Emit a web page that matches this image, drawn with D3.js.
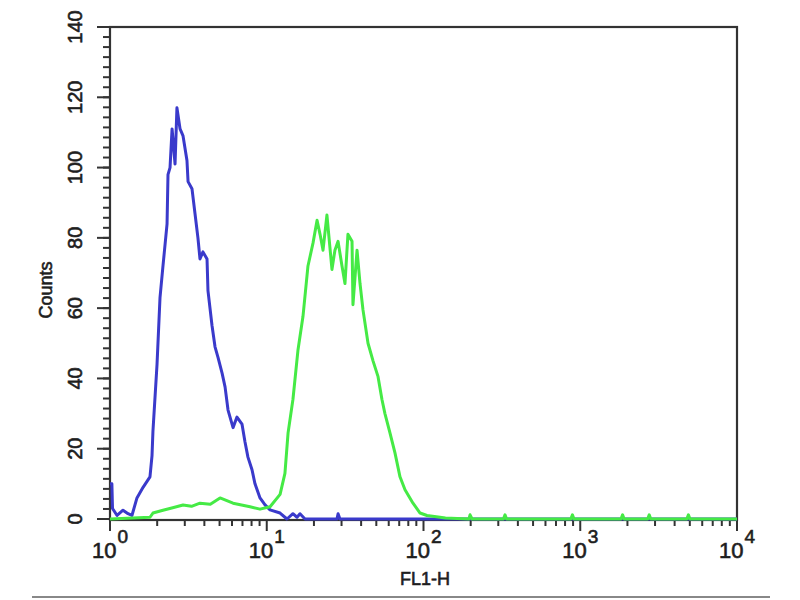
<!DOCTYPE html>
<html>
<head>
<meta charset="utf-8">
<script src="https://cdn.jsdelivr.net/npm/d3@7"></script>
<style>
  body { margin: 0; background: #fff; }
  svg { font-family: "Liberation Sans", Arial, sans-serif; }
  .lbl { fill: #1e1e1e; stroke: #1e1e1e; stroke-width: 0.6px; }
</style>
</head>
<body>
<svg id="chart" width="800" height="600"></svg>
<script>
// FL1-H position in decades (log10), counts per series
var blueX = [0, 0.012, 0.016, 0.045, 0.083, 0.115, 0.14, 0.172, 0.211, 0.255, 0.268, 0.274, 0.3, 0.319, 0.338, 0.364, 0.37, 0.383, 0.396, 0.415, 0.427, 0.447, 0.466, 0.491, 0.498, 0.523, 0.542, 0.561, 0.574, 0.593, 0.619, 0.625, 0.651, 0.67, 0.689, 0.715, 0.734, 0.753, 0.785, 0.81, 0.842, 0.861, 0.88, 0.906, 0.925, 0.957, 0.989, 1.021, 1.085, 1.129, 1.167, 1.193, 1.212, 1.244, 1.448, 1.455, 1.467, 2.01, 4]
var blueY = [10, 10, 3, 1, 2.5, 1.5, 1, 6, 9, 12, 18, 25, 44, 63, 72, 84, 98, 100, 111, 101, 117, 111, 109, 102, 96, 94, 87, 80, 74, 76, 74, 65, 55, 49, 46, 41.5, 37.6, 31, 26, 29, 27, 22, 17.6, 14, 10, 6, 4, 2.6, 1.7, 0, 1.5, 0.5, 1.5, 0, 0, 1.5, 0, 0, 0]

var greenX = [0, 0.255, 0.274, 0.338, 0.4, 0.466, 0.52, 0.574, 0.64, 0.702, 0.785, 0.893, 0.957, 1.021, 1.085, 1.116, 1.136, 1.167, 1.199, 1.231, 1.263, 1.295, 1.321, 1.34, 1.359, 1.384, 1.416, 1.435, 1.455, 1.48, 1.499, 1.518, 1.544, 1.55, 1.576, 1.595, 1.614, 1.646, 1.678, 1.71, 1.735, 1.754, 1.786, 1.818, 1.85, 1.882, 1.933, 1.978, 2.022, 2.105, 2.14, 2.29, 2.297, 2.31, 2.51, 2.52, 2.53, 2.94, 2.95, 2.96, 3.26, 3.27, 3.28, 3.43, 3.44, 3.45, 3.68, 3.69, 3.7, 4]
var greenY = [0, 0.5, 1.7, 2.5, 3.2, 4, 3.6, 4.5, 4.2, 6, 4.5, 3.5, 2.8, 3.5, 7, 13, 24.5, 34, 48, 57.6, 72, 78.5, 85, 81, 76.5, 86.5, 71, 76.5, 79, 72, 67, 81, 79, 61, 76.5, 67, 59.5, 50, 45, 40.5, 34, 30, 24.5, 18.8, 12, 8.3, 4.5, 1.7, 1, 0.5, 0.3, 0, 1.2, 0, 0, 1.2, 0, 0, 1.2, 0, 0, 1.2, 0, 0, 1.2, 0, 0, 1.2, 0, 0]

var yTicks = [0, 20, 40, 60, 80, 100, 120, 140]
var xDecades = [0, 1, 2, 3, 4]

var plot = { left: 110, right: 737, top: 27, bottom: 519 }

var svg = d3.select("#chart")

var xScale = d3.scaleLinear()
    .domain([0, 4])
    .range([plot.left, plot.right])

var yScale = d3.scaleLinear()
    .domain([0, 140])
    .range([plot.bottom, plot.top])

// frame
svg.append("rect")
    .attr("x", plot.left)
    .attr("y", plot.top)
    .attr("width", plot.right - plot.left)
    .attr("height", plot.bottom - plot.top + 1)
    .attr("fill", "none")
    .attr("stroke", "#333")
    .attr("stroke-width", 2.2)

// y ticks
var minorY = d3.range(0, 140.01, 20 / 7)
svg.append("g").selectAll("line")
    .data(minorY)
    .enter()
    .append("line")
    .attr("x1", plot.left - 7)
    .attr("x2", plot.left)
    .attr("y1", d => yScale(d))
    .attr("y2", d => yScale(d))
    .attr("stroke", "#333")
    .attr("stroke-width", 2)

svg.append("g").selectAll("line")
    .data(yTicks)
    .enter()
    .append("line")
    .attr("x1", plot.left - 13)
    .attr("x2", plot.left)
    .attr("y1", d => yScale(d))
    .attr("y2", d => yScale(d))
    .attr("stroke", "#333")
    .attr("stroke-width", 2)

svg.append("g").selectAll("text")
    .data(yTicks)
    .enter()
    .append("text")
    .attr("class", "lbl")
    .attr("transform", d => "translate(82," + yScale(d) + ") rotate(-90)")
    .attr("text-anchor", "middle")
    .style("font-size", "20px")
    .text(d => d)

svg.append("text")
    .attr("class", "lbl")
    .attr("transform", "translate(52,290) rotate(-90)")
    .attr("text-anchor", "middle")
    .style("font-size", "18px")
    .text("Counts")

// x ticks (log decades)
var minorX = []
xDecades.slice(0, 4).forEach(function(dec){
    for (var k = 2; k < 10; k++) minorX.push(dec + Math.log10(k))
})
svg.append("g").selectAll("line")
    .data(minorX)
    .enter()
    .append("line")
    .attr("x1", d => xScale(d))
    .attr("x2", d => xScale(d))
    .attr("y1", plot.bottom)
    .attr("y2", plot.bottom + 7)
    .attr("stroke", "#333")
    .attr("stroke-width", 2)

svg.append("g").selectAll("line")
    .data(xDecades)
    .enter()
    .append("line")
    .attr("x1", d => xScale(d))
    .attr("x2", d => xScale(d))
    .attr("y1", plot.bottom)
    .attr("y2", plot.bottom + 12)
    .attr("stroke", "#333")
    .attr("stroke-width", 2)

var xLabels = svg.append("g").selectAll("text")
    .data(xDecades)
    .enter()
    .append("text")
    .attr("class", "lbl")
    .attr("x", d => xScale(d))
    .attr("y", 558)
    .attr("text-anchor", "middle")
    .style("font-size", "22px")
xLabels.append("tspan").text("10")
xLabels.append("tspan")
    .attr("dy", -15)
    .attr("dx", 1)
    .style("font-size", "19px")
    .text(d => d)

svg.append("text")
    .attr("class", "lbl")
    .attr("x", 425)
    .attr("y", 585)
    .attr("text-anchor", "middle")
    .style("font-size", "18px")
    .text("FL1-H")

// histograms
var line = d3.line()
    .x(d => xScale(d[0]))
    .y(d => yScale(d[1]))

svg.append("path")
    .datum(d3.zip(blueX, blueY))
    .attr("d", line)
    .attr("fill", "none")
    .attr("stroke", "#3a3acb")
    .attr("stroke-width", 3)
    .attr("stroke-linejoin", "round")

svg.append("path")
    .datum(d3.zip(greenX, greenY))
    .attr("d", line)
    .attr("fill", "none")
    .attr("stroke", "#45ea45")
    .attr("stroke-width", 3)
    .attr("stroke-linejoin", "round")

// bottom rule of the picture
svg.append("line")
    .attr("x1", 32)
    .attr("x2", 770)
    .attr("y1", 597)
    .attr("y2", 597)
    .attr("stroke", "#888")
    .attr("stroke-width", 2)
</script>
</body>
</html>
